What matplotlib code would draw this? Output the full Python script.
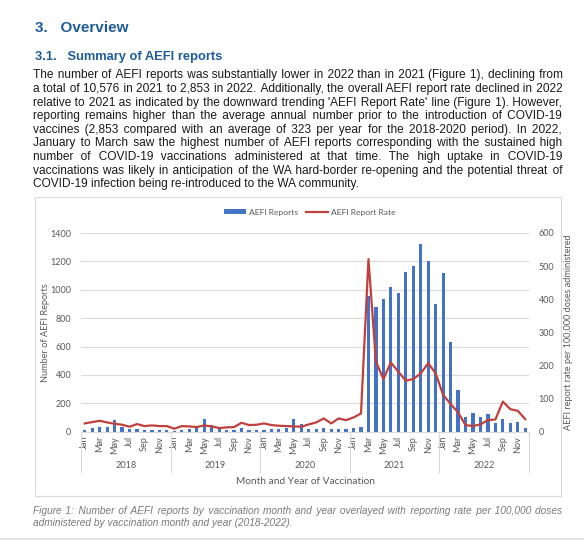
import numpy as np
import matplotlib
matplotlib.use('Agg')
import matplotlib.pyplot as plt
from matplotlib.patches import Rectangle, Patch
from matplotlib.lines import Line2D

# chart data
years = ['2018', '2019', '2020', '2021', '2022']
months = ['Jan', 'Feb', 'Mar', 'Apr', 'May', 'Jun', 'Jul', 'Aug', 'Sep', 'Oct', 'Nov', 'Dec']

reports_2018 = [12, 24, 31, 35, 80, 35, 16, 19, 12, 12, 12, 12]
reports_2019 = [8, 12, 20, 25, 90, 45, 20, 15, 12, 25, 15, 12]
reports_2020 = [12, 16, 19, 24, 88, 52, 16, 16, 28, 16, 19, 19]
reports_2021 = [24, 35, 958, 876, 936, 1021, 977, 1122, 1165, 1320, 1200, 897]
reports_2022 = [1120, 633, 294, 104, 129, 101, 125, 64, 89, 64, 66, 28]

rate_2018 = [25, 29, 33, 28, 24, 21, 15, 23, 17, 19, 17, 17]
rate_2019 = [9, 17, 16, 14, 19, 16, 11, 13, 14, 27, 20, 21]
rate_2020 = [25, 20, 18, 17, 16, 15, 22, 28, 40, 25, 40, 35]
rate_2021 = [43, 55, 521, 212, 159, 209, 181, 154, 159, 176, 207, 176]
rate_2022 = [111, 84, 58, 20, 17, 22, 35, 37, 91, 68, 63, 38]

reports = reports_2018 + reports_2019 + reports_2020 + reports_2021 + reports_2022
rates = rate_2018 + rate_2019 + rate_2020 + rate_2021 + rate_2022

heading = '3.   Overview'
subheading = '3.1.   Summary of AEFI reports'
body = [
    "The number of AEFI reports was substantially lower in 2022 than in 2021 (Figure 1), declining from",
    "a total of 10,576 in 2021 to 2,853 in 2022. Additionally, the overall AEFI report rate declined in 2022",
    "relative to 2021 as indicated by the downward trending 'AEFI Report Rate' line (Figure 1). However,",
    "reporting remains higher than the average annual number prior to the introduction of COVID-19",
    "vaccines (2,853 compared with an average of 323 per year for the 2018-2020 period). In 2022,",
    "January to March saw the highest number of AEFI reports corresponding with the sustained high",
    "number of COVID-19 vaccinations administered at that time. The high uptake in COVID-19",
    "vaccinations was likely in anticipation of the WA hard-border re-opening and the potential threat of",
    "COVID-19 infection being re-introduced to the WA community.",
]
caption = [
    "Figure 1: Number of AEFI reports by vaccination month and year overlayed with reporting rate per 100,000 doses",
    "administered by vaccination month and year (2018-2022).",
]

W, H = 584, 542
fig = plt.figure(figsize=(W / 100, H / 100), dpi=100)
fig.patch.set_facecolor('white')
renderer = fig.canvas.get_renderer()

BLUE_HEAD = '#1f5c99'
TEXT = '#1a1a1a'
GREY = '#595959'
BAR = '#4472c4'
LINE = '#c0403d'
DOC_FONT = ['Liberation Sans', 'DejaVu Sans']
CHART_FONT = 'Lato'
HAIR = '\u200a'


def fx(px):
    return px / W


def fy(py):
    return 1 - py / H


def text_width(s, **kw):
    t = fig.text(0, 0, s, **kw)
    w = t.get_window_extent(renderer).width
    t.remove()
    return w


def justify(lines, x0, x1, y0, dy, **kw):
    # one text per line; gaps padded with hair spaces so the line fills x0..x1
    hw = text_width('x' + HAIR + 'x', **kw) - text_width('xx', **kw)
    for k, line in enumerate(lines):
        words = line.split(' ')
        s = line
        if k < len(lines) - 1 and hw > 0:
            extra = (x1 - x0) - text_width(line, **kw)
            per_gap = extra / (len(words) - 1)
            s = words[0]
            done = 0
            for i, w in enumerate(words[1:], start=1):
                n = int(round(per_gap * i / hw)) - done
                done += n
                s += ' ' + HAIR * max(n, 0) + w
        fig.text(fx(x0), fy(round(y0 + k * dy)), s, va='baseline', ha='left', **kw)


fig.text(fx(35), fy(32), heading, fontsize=11, fontweight='bold', color=BLUE_HEAD,
         family=DOC_FONT, va='baseline')
fig.text(fx(35), fy(60), subheading, fontsize=9.3, fontweight='bold', color=BLUE_HEAD,
         family=DOC_FONT, va='baseline')
justify(body, 33, 562, 78.5, 13.6, fontsize=8.6, color=TEXT, family=DOC_FONT)
justify(caption, 33, 562, 514, 12.5, fontsize=7.3, color='#7a7a7a', family=DOC_FONT,
        style='italic')

# chart frame
fig.patches.append(Rectangle((fx(35), fy(496)), fx(561) - fx(35), fy(197) - fy(496),
                             transform=fig.transFigure, fill=False, edgecolor='#d9d9d9',
                             linewidth=0.8))
fig.add_artist(Line2D([0, 1], [fy(539), fy(539)], color='#e3e3e3', linewidth=1.2))

ax = fig.add_axes([fx(81), fy(431.7), fx(529) - fx(81), fy(233) - fy(431.7)])
x = np.arange(len(reports))
ax.bar(x, reports, width=0.42, color=BAR, zorder=2)
ax.set_xlim(-0.5, len(reports) - 0.5)
ax.set_ylim(0, 1400)
ax.set_yticks(range(0, 1401, 200))
ax.grid(axis='y', color='#d9d9d9', linewidth=0.8, zorder=0)
for s in ['top', 'right', 'left']:
    ax.spines[s].set_visible(False)
ax.spines['bottom'].set_color('#d9d9d9')
ax.spines['bottom'].set_linewidth(0.8)
ax.tick_params(axis='y', length=0, labelsize=6.5, labelcolor=GREY, pad=7)
for lab in ax.get_yticklabels():
    lab.set_family(CHART_FONT)

month_labels = [m for y in years for m in months]
ax.set_xticks(x[::2])
ax.set_xticklabels(month_labels[::2], rotation=90, fontsize=6.6, color=GREY,
                   family=CHART_FONT, va='top', ha='center')
ax.tick_params(axis='x', length=0, pad=3)

trans = ax.get_xaxis_transform()
for i, yr in enumerate(years):
    ax.text(i * 12 + 5.5, -0.172, yr, transform=trans, ha='center', va='center',
            fontsize=6.6, color=GREY, family=CHART_FONT)
for i in range(len(years) + 1):
    ax.plot([i * 12 - 0.5, i * 12 - 0.5], [0, -0.203], transform=trans, color='#d9d9d9',
            linewidth=0.8, clip_on=False)

ax.set_ylabel('Number of AEFI Reports', fontsize=6.6, color=GREY, family=CHART_FONT, labelpad=0.5)
ax.text(0.5, -0.252, 'Month and Year of Vaccination', transform=ax.transAxes, ha='center',
        va='center', fontsize=7.3, color=GREY, family=CHART_FONT)

ax2 = ax.twinx()
ax2.plot(x, rates, color=LINE, linewidth=1.6, zorder=3)
ax2.set_ylim(0, 600)
ax2.set_yticks(range(0, 601, 100))
for s in ['top', 'right', 'left', 'bottom']:
    ax2.spines[s].set_visible(False)
ax2.tick_params(axis='y', length=0, labelsize=6.5, labelcolor=GREY, pad=7)
for lab in ax2.get_yticklabels():
    lab.set_family(CHART_FONT)
ax2.set_ylabel('AEFI report rate per 100,000 doses administered', fontsize=6.6, color=GREY,
               family=CHART_FONT, labelpad=7)

handles = [Patch(facecolor=BAR), Line2D([0], [0], color=LINE, linewidth=1.6)]
fig.legend(handles, ['AEFI Reports', 'AEFI Report Rate'], loc='center',
           bbox_to_anchor=(fx(310), fy(212)), ncol=2, frameon=False,
           prop={'family': CHART_FONT, 'size': 6.1}, labelcolor=GREY,
           handlelength=2.6, handleheight=0.45, handletextpad=0.3, columnspacing=1.0)

fig.savefig('out.png', dpi=100)
